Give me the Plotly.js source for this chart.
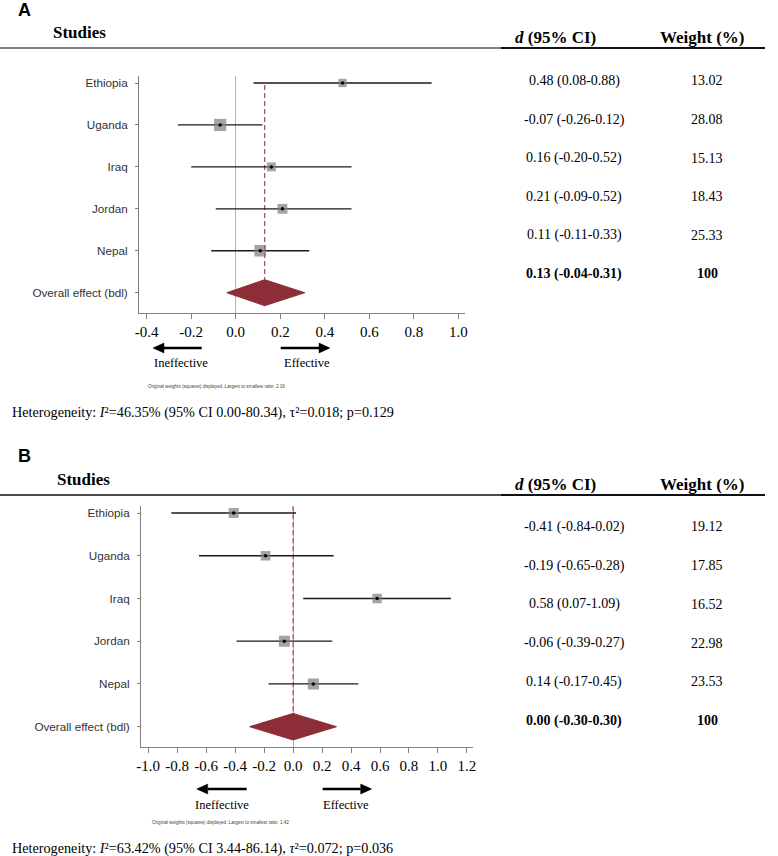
<!DOCTYPE html>
<html><head><meta charset="utf-8">
<script src="https://cdn.plot.ly/plotly-3.0.1.min.js"></script>
<style>body{margin:0;background:#fff}</style>
</head><body><div id="chart" style="width:778px;height:856px"></div>
<script>
// ---------------- data ----------------
const studies = ['Ethiopia', 'Uganda', 'Iraq', 'Jordan', 'Nepal'];
const overallLabel = 'Overall effect (bdl)';

const estA = [0.48, -0.07, 0.16, 0.21, 0.11];
const lowA = [0.08, -0.26, -0.20, -0.09, -0.11];
const highA = [0.88, 0.12, 0.52, 0.52, 0.33];
const weightA = [13.02, 28.08, 15.13, 18.43, 25.33];
const overallA = [0.13, -0.04, 0.31];          // estimate, low, high
const xTicksA = [-0.4, -0.2, 0.0, 0.2, 0.4, 0.6, 0.8, 1.0];
const heteroA = [46.35, 0.00, 80.34, 0.018, 0.129]; // I2, CI low, CI high, tau2, p

const estB = [-0.41, -0.19, 0.58, -0.06, 0.14];
const lowB = [-0.84, -0.65, 0.07, -0.39, -0.17];
const highB = [0.02, 0.28, 1.09, 0.27, 0.45];
const weightB = [19.12, 17.85, 16.52, 22.98, 23.53];
const overallB = [0.00, -0.30, 0.30];
const xTicksB = [-1.0, -0.8, -0.6, -0.4, -0.2, 0.0, 0.2, 0.4, 0.6, 0.8, 1.0, 1.2];
const heteroB = [63.42, 3.44, 86.14, 0.072, 0.036];

// ---------------- helpers ----------------
const W = 778, H = 856;
const px = v => v / W;
const py = v => 1 - v / H;
const SERIF = 'Liberation Serif, Times New Roman, serif';
const SANS = 'Liberation Sans, Arial, sans-serif';
const f2 = v => v.toFixed(2);

const traces = [];
const annotations = [];
const shapes = [];
const layout = {
  width: W, height: H, margin: {l: 0, r: 0, t: 0, b: 0},
  paper_bgcolor: '#fff', plot_bgcolor: '#fff', showlegend: false,
  annotations: annotations, shapes: shapes
};

// arrow drawn with shapes: tip at (tipX, y), tail at (tailX, y)
function arrow(tipX, tailX, y) {
  const dir = tailX > tipX ? 1 : -1;
  const baseX = tipX + dir * 11;
  shapes.push({type: 'line', xref: 'paper', yref: 'paper', x0: px(baseX), x1: px(tailX), y0: py(y), y1: py(y),
    line: {color: '#000', width: 2.6}});
  shapes.push({type: 'path', xref: 'paper', yref: 'paper',
    path: 'M' + px(tipX) + ',' + py(y) + ' L' + px(baseX) + ',' + py(y - 5) + ' L' + px(baseX) + ',' + py(y + 5) + ' Z',
    fillcolor: '#000', line: {color: '#000', width: 0.5}});
}

function panel(opt) {
  const {est, low, high, weight, overall, ticks, hetero, xid, yid, xname, yname, P} = opt;
  const n = studies.length;
  const rows = studies.map((s, i) => i);
  // dashed overall line
  traces.push({
    x: [overall[0], overall[0]], y: [P.dashTop, n - 0.31],
    mode: 'lines', xaxis: xid, yaxis: yid, hoverinfo: 'skip',
    line: {color: '#b4505c', width: 1.3, dash: '5px,3px'}
  });
  // CI lines
  const cx = [], cy = [];
  rows.forEach(i => { cx.push(low[i], high[i], null); cy.push(i, i, null); });
  traces.push({x: cx, y: cy, mode: 'lines', xaxis: xid, yaxis: yid,
    line: {color: '#1a1a1a', width: 1.3}, hoverinfo: 'skip'});
  // weight squares
  traces.push({x: est, y: rows, mode: 'markers', xaxis: xid, yaxis: yid,
    marker: {symbol: 'square', color: '#7d7d7d', size: weight.map(w => 2.3 * Math.sqrt(w)), line: {width: 0}}});
  traces.push({x: est, y: rows, mode: 'markers', xaxis: xid, yaxis: yid,
    marker: {symbol: 'circle', color: '#000', size: 3.5}});
  // diamond
  const h = 0.31;
  traces.push({
    x: [overall[1], overall[0], overall[2], overall[0], overall[1]],
    y: [n, n - h, n, n + h, n],
    mode: 'lines', fill: 'toself', fillcolor: '#8c2d37',
    line: {color: '#8c2d37', width: 1}, xaxis: xid, yaxis: yid, hoverinfo: 'skip'
  });

  layout[xname] = {
    domain: [px(P.plotL), px(P.plotR)], range: P.xrange, anchor: yid,
    tickvals: ticks, ticktext: ticks.map(t => t.toFixed(1)),
    ticks: 'outside', ticklen: 5, tickcolor: '#808080', tickwidth: 1,
    showline: true, linecolor: '#808080', linewidth: 1,
    showgrid: false, zeroline: true, zerolinecolor: '#b4b4b4', zerolinewidth: 1,
    tickfont: {family: SERIF, size: 15, color: '#000'}, fixedrange: true
  };
  layout[yname] = {
    domain: [py(P.plotB), py(P.plotT)], range: P.yrange, anchor: xid,
    tickvals: rows.concat([n]), ticktext: studies.concat([overallLabel]),
    ticks: 'outside', ticklen: 3, tickcolor: '#808080', tickwidth: 1, ticklabelstandoff: 5,
    showline: true, linecolor: '#808080', linewidth: 1,
    showgrid: false, zeroline: false,
    tickfont: {family: SANS, size: 11.7, color: '#333'}, fixedrange: true
  };

  // panel letter, headers
  annotations.push({xref: 'paper', yref: 'paper', x: px(16), y: py(P.letterY), xanchor: 'left', yanchor: 'middle',
    text: '<b>' + P.letter + '</b>', showarrow: false, font: {family: SANS, size: 18, color: '#000'}});
  annotations.push({xref: 'paper', yref: 'paper', x: px(P.studiesX), y: py(P.studiesY), xanchor: 'left', yanchor: 'middle',
    text: '<b>Studies</b>', showarrow: false, font: {family: SERIF, size: 17, color: '#000'}});
  annotations.push({xref: 'paper', yref: 'paper', x: px(555), y: py(P.headY), xanchor: 'center', yanchor: 'middle',
    text: '<b><i>d</i> (95% CI)</b>', showarrow: false, font: {family: SERIF, size: 17, color: '#000'}});
  annotations.push({xref: 'paper', yref: 'paper', x: px(702), y: py(P.headY), xanchor: 'center', yanchor: 'middle',
    text: '<b>Weight (%)</b>', showarrow: false, font: {family: SERIF, size: 17, color: '#000'}});
  shapes.push({type: 'line', xref: 'paper', yref: 'paper', x0: 0, x1: px(501), y0: py(P.lineY), y1: py(P.lineY),
    line: {color: P.lineCol, width: 1.5}});
  shapes.push({type: 'line', xref: 'paper', yref: 'paper', x0: px(501), x1: px(765), y0: py(P.lineY), y1: py(P.lineY),
    line: {color: '#111', width: 2}});

  // table
  rows.forEach(i => {
    const yy = py(P.tab0 + i * P.tabStep);
    annotations.push({xref: 'paper', yref: 'paper', x: px(574), y: yy, xanchor: 'center', yanchor: 'middle', showarrow: false,
      text: f2(est[i]) + ' (' + f2(low[i]) + '-' + f2(high[i]) + ')', font: {family: SERIF, size: 14, color: '#000'}});
    annotations.push({xref: 'paper', yref: 'paper', x: px(707), y: yy, xanchor: 'center', yanchor: 'middle', showarrow: false,
      text: f2(weight[i]), font: {family: SERIF, size: 14, color: '#000'}});
  });
  const yo = py(P.tab0 + n * P.tabStep);
  const total = weight.reduce((a, b) => a + b, 0);
  annotations.push({xref: 'paper', yref: 'paper', x: px(574), y: yo, xanchor: 'center', yanchor: 'middle', showarrow: false,
    text: '<b>' + f2(overall[0]) + ' (' + f2(overall[1]) + '-' + f2(overall[2]) + ')</b>', font: {family: SERIF, size: 14, color: '#000'}});
  annotations.push({xref: 'paper', yref: 'paper', x: px(707), y: yo, xanchor: 'center', yanchor: 'middle', showarrow: false,
    text: '<b>' + Math.round(total) + '</b>', font: {family: SERIF, size: 14, color: '#000'}});

  // arrows
  arrow(P.arrL[0], P.arrL[1], P.arrowY);
  arrow(P.arrR[1], P.arrR[0], P.arrowY);
  annotations.push({xref: 'paper', yref: 'paper', x: px(P.ineffX), y: py(P.labY), xanchor: 'center', yanchor: 'middle',
    text: 'Ineffective', showarrow: false, font: {family: SERIF, size: 12.5, color: '#000'}});
  annotations.push({xref: 'paper', yref: 'paper', x: px(P.effX), y: py(P.labY), xanchor: 'center', yanchor: 'middle',
    text: 'Effective', showarrow: false, font: {family: SERIF, size: 12.5, color: '#000'}});
  const ratio = Math.max(...weight) / Math.min(...weight);
  annotations.push({xref: 'paper', yref: 'paper', x: px(P.noteX), y: py(P.noteY), xanchor: 'center', yanchor: 'middle',
    text: 'Original weights (squares) displayed. Largest to smallest ratio: ' + ratio.toFixed(2), showarrow: false,
    font: {family: SANS, size: 4.6, color: '#444'}});
  const tau = P.tauItalic ? '<i>τ</i>²' : 'τ²';
  annotations.push({xref: 'paper', yref: 'paper', x: px(10), y: py(P.hetY), xanchor: 'left', yanchor: 'middle', showarrow: false,
    text: 'Heterogeneity: <i>I</i>²=' + hetero[0].toFixed(2) + '% (95% CI ' + f2(hetero[1]) + '-' + f2(hetero[2]) + '), ' +
      tau + '=' + hetero[3].toFixed(3) + '; p=' + hetero[4].toFixed(3),
    font: {family: SERIF, size: 14.2, color: '#000'}});
}

panel({est: estA, low: lowA, high: highA, weight: weightA, overall: overallA, ticks: xTicksA, hetero: heteroA,
  xid: 'x', yid: 'y', xname: 'xaxis', yname: 'yaxis',
  P: {letter: 'A', letterY: 9.5, studiesX: 50.5, studiesY: 33, lineY: 48, lineCol: '#555', headY: 38,
      plotL: 139, plotR: 465, plotT: 76, plotB: 313, xrange: [-0.4346, 1.03], yrange: [5.484, -0.167], dashTop: 0.05,
      tab0: 81, tabStep: 38.6, arrowY: 348, arrL: [153, 201.7], arrR: [280.7, 330], labY: 363, ineffX: 181, effX: 307,
      noteX: 217, noteY: 387, hetY: 413, tauItalic: false}});
panel({est: estB, low: lowB, high: highB, weight: weightB, overall: overallB, ticks: xTicksB, hetero: heteroB,
  xid: 'x2', yid: 'y2', xname: 'xaxis2', yname: 'yaxis2',
  P: {letter: 'B', letterY: 455.5, studiesX: 55, studiesY: 479, lineY: 495, lineCol: '#111', headY: 485,
      plotL: 141, plotR: 472.7, plotT: 506, plotB: 747.3, xrange: [-1.05, 1.24], yrange: [5.482, -0.164], dashTop: -0.16,
      tab0: 526.7, tabStep: 38.8, arrowY: 789, arrL: [196.7, 246.7], arrR: [322.7, 371.7], labY: 805, ineffX: 221.7, effX: 346,
      noteX: 220, noteY: 822.7, hetY: 848, tauItalic: true}});

Plotly.newPlot('chart', traces, layout, {displayModeBar: false, staticPlot: true});
</script></body></html>
